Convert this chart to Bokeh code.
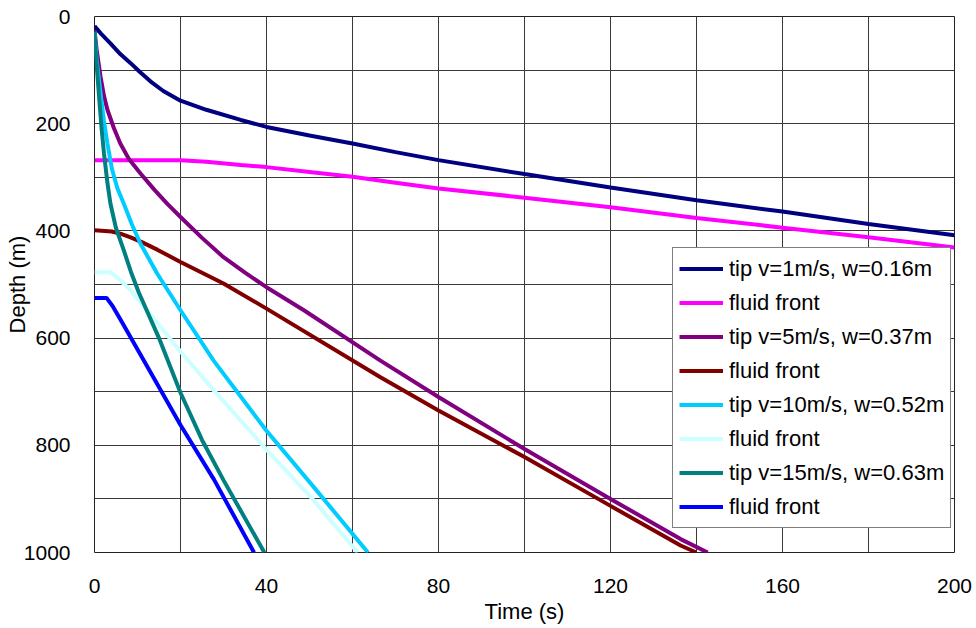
from bokeh.plotting import figure
from bokeh.models import Range1d, FixedTicker, Legend, LegendItem
from bokeh.embed import file_html
from bokeh.resources import INLINE

# ---- data ----
tip1_t = [0, 1.5, 3.7, 6, 8.4, 10.5, 13, 16, 20, 26, 34, 40, 50, 60, 70, 80, 100, 120, 140, 160, 180, 200]
tip1_d = [18, 32, 50, 70, 87, 103, 121, 139, 157, 174, 193, 206, 222, 237, 253, 268, 294, 319, 343, 364, 387, 408]

front1_t = [0, 20, 26, 34, 40, 50, 60, 70, 80, 100, 120, 140, 160, 180, 200]
front1_d = [268, 268, 271, 277, 281, 290, 299, 310, 321, 338, 356, 376, 394, 412, 431]

tip5_t = [0, 0.5, 1.4, 2.2, 3, 4.5, 6, 8, 10.7, 14, 17, 20, 25, 30, 35, 40, 48.7, 66.5, 80, 100, 120, 136.3, 142.6]
tip5_d = [25, 62, 112, 148, 174, 208, 237, 266, 293, 324, 350, 374, 413, 449, 478, 505, 548, 642, 710, 807, 900, 975, 1000]

front5_t = [0, 4, 6, 8.4, 11, 14.6, 20, 25, 30, 40, 66.5, 80, 100, 120, 136.3, 140]
front5_d = [399, 401, 405, 412, 421, 435, 458, 478, 498, 545, 673, 735, 822, 913, 987, 1000]

tip10_t = [0, 0.5, 1.4, 2.2, 3, 4.1, 5.3, 6.8, 8.7, 10.7, 14.6, 20, 27.7, 40, 51, 63.6]
tip10_d = [30, 80, 143, 195, 237, 286, 320, 349, 388, 424, 480, 548, 642, 773, 878, 1000]

front10_t = [0, 3.7, 6, 8.4, 12.2, 20, 27.8, 40, 51, 61.2]
front10_d = [477, 477, 492, 511, 548, 625, 698, 808, 903, 1000]

tip15_t = [0, 0.4, 1, 1.6, 2.2, 3, 3.7, 5, 6.8, 8.5, 10.3, 15, 20, 25, 30, 39.5]
tip15_d = [28, 80, 143, 205, 255, 310, 349, 395, 436, 477, 515, 600, 702, 790, 865, 1000]

front15_t = [0, 2.8, 4.2, 6, 12.2, 20, 27.8, 37.1]
front15_d = [525, 525, 540, 565, 652, 762, 864, 1000]

labels = ["tip v=1m/s, w=0.16m", "fluid front",
          "tip v=5m/s, w=0.37m", "fluid front",
          "tip v=10m/s, w=0.52m", "fluid front",
          "tip v=15m/s, w=0.63m", "fluid front"]

x_ticks = [0, 40, 80, 120, 160, 200]
y_ticks = [0, 200, 400, 600, 800, 1000]
x_grid = [0, 20, 40, 60, 80, 100, 120, 140, 160, 180, 200]
y_grid = [0, 100, 200, 300, 400, 500, 600, 700, 800, 900, 1000]

series = [
    (tip1_t, tip1_d, "#000080"),
    (front1_t, front1_d, "#FF00FF"),
    (tip5_t, tip5_d, "#800080"),
    (front5_t, front5_d, "#800000"),
    (tip10_t, tip10_d, "#00CCFF"),
    (front10_t, front10_d, "#CCFFFF"),
    (tip15_t, tip15_d, "#008080"),
    (front15_t, front15_d, "#0000FF"),
]

FONT = "Liberation Sans"

p = figure(width=976, height=628, output_backend="svg", toolbar_location=None,
           x_range=Range1d(0, 200), y_range=Range1d(1000, 0),
           min_border_left=94, min_border_right=22, min_border_top=16,
           min_border_bottom=76)
p.background_fill_color = "white"
p.border_fill_color = "white"
p.outline_line_color = "#222222"
p.outline_line_width = 1

p.xaxis.ticker = FixedTicker(ticks=x_ticks)
p.yaxis.ticker = FixedTicker(ticks=y_ticks)
p.xgrid.ticker = FixedTicker(ticks=x_grid)
p.ygrid.ticker = FixedTicker(ticks=y_grid)
for g in (p.xgrid, p.ygrid):
    g.grid_line_color = "#3a3a3a"
    g.grid_line_width = 1

for ax in (p.xaxis, p.yaxis):
    ax.axis_line_color = None
    ax.major_tick_line_color = None
    ax.minor_tick_line_color = None
    ax.major_label_text_font = FONT
    ax.major_label_text_font_size = "21px"
    ax.major_label_text_color = "black"
    ax.axis_label_text_font = FONT
    ax.axis_label_text_font_size = "22px"
    ax.axis_label_text_font_style = "normal"
    ax.axis_label_text_color = "black"

p.xaxis.axis_label = "Time (s)"
p.yaxis.axis_label = "Depth (m)"
p.xaxis.major_label_standoff = 20
p.xaxis.axis_label_standoff = 3
p.yaxis.major_label_standoff = 18
p.yaxis.axis_label_standoff = -9

renderers = []
for t, d, c in series:
    r = p.line(t, d, line_color=c, line_width=4)
    renderers.append(r)

items = [LegendItem(label=lab, renderers=[r]) for lab, r in zip(labels, renderers)]
legend = Legend(items=items, location=(578, 24))
legend.label_text_font = FONT
legend.label_text_font_size = "22px"
legend.label_text_color = "black"
legend.glyph_width = 44
legend.glyph_height = 29
legend.label_height = 29
legend.label_standoff = 6
legend.spacing = 5
legend.padding = 6
legend.margin = 0
legend.border_line_color = "black"
legend.border_line_width = 1
legend.background_fill_color = "white"
legend.background_fill_alpha = 1
p.add_layout(legend, "center")

open("out.html", "w").write(file_html(p, INLINE))
